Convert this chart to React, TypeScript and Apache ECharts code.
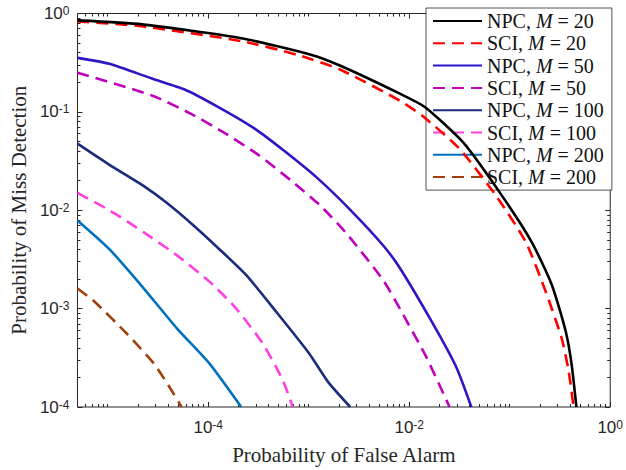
import React, { useEffect, useRef } from 'react';
import * as echarts from 'echarts';

// Data (x = P_FA, y = P_MD)
const npc20 = [
  [5e-6, 0.851], [2.19e-5, 0.776], [2.13e-4, 0.561], [1.07e-3, 0.379], [2.07e-3, 0.294],
  [8.07e-3, 0.153], [1.43e-2, 0.112], [3.46e-2, 0.0486], [8.39e-2, 0.014], [0.166, 0.00472],
  [0.262, 0.00175], [0.36, 5.92e-4], [0.412, 2.76e-4], [0.461, 1e-4],
];
const sci20 = [
  [5e-6, 0.832], [2.19e-5, 0.741], [2.13e-4, 0.524], [7.76e-4, 0.379], [2.07e-3, 0.268],
  [8.07e-3, 0.13], [1.36e-2, 0.0906], [3.16e-2, 0.0423], [7.33e-2, 0.014], [0.145, 0.00472],
  [0.228, 0.00149], [0.328, 5.04e-4], [0.385, 2.35e-4], [0.432, 1e-4],
];
const npc50 = [
  [5e-6, 0.354], [1.04e-5, 0.308], [2.75e-5, 0.218], [5.82e-5, 0.169], [1.26e-4, 0.112],
  [2.83e-4, 0.0687], [5.65e-4, 0.0404], [1.22e-3, 0.0212], [2.59e-3, 0.0101], [5.48e-3, 0.00441],
  [8.07e-3, 0.00259], [1.71e-2, 7.11e-4], [2.95e-2, 2.52e-4], [4.15e-2, 1e-4],
];
const sci50 = [
  [5e-6, 0.25], [2.75e-5, 0.147], [6.82e-5, 0.0949], [1.45e-4, 0.0612], [3.13e-4, 0.0368],
  [6.62e-4, 0.0202], [1.31e-3, 0.0111], [2.42e-3, 0.00568], [5.48e-3, 0.00196], [8.07e-3, 0.001],
  [1.49e-2, 3.17e-4], [2.52e-2, 1e-4],
];
const npc100 = [
  [5e-6, 0.0475], [1.06e-5, 0.0286], [2.29e-5, 0.0176], [3.86e-5, 0.0119], [7.14e-5, 0.007],
  [1.29e-4, 0.00402], [2.38e-4, 0.0022], [4.71e-4, 9.38e-4], [9.98e-4, 3.56e-4],
  [1.57e-3, 1.78e-4], [2.59e-3, 1e-4],
];
const sci100 = [
  [5e-6, 0.015], [1.06e-5, 0.00989], [2.29e-5, 0.00595], [4.85e-5, 0.0035], [1.03e-4, 0.00188],
  [1.9e-4, 0.001], [3.51e-4, 4.38e-4], [5.52e-4, 1.87e-4], [6.93e-4, 1e-4],
];
const npc200 = [
  [5e-6, 0.00785], [1.06e-5, 0.00393], [2.29e-5, 0.0016], [4.85e-5, 6.34e-4], [1.03e-4, 2.76e-4],
  [2.13e-4, 1e-4],
];
const sci200 = [
  [5e-6, 0.0016], [7.36e-6, 0.00118], [1.56e-5, 5.52e-4], [2.88e-5, 2.76e-4], [4.14e-5, 1.58e-4],
  [5.43e-5, 1e-4],
];

const seriesNames = [
  'NPC, M = 20', 'SCI, M = 20', 'NPC, M = 50', 'SCI, M = 50',
  'NPC, M = 100', 'SCI, M = 100', 'NPC, M = 200', 'SCI, M = 200',
];
const seriesData = [npc20, sci20, npc50, sci50, npc100, sci100, npc200, sci200];
const seriesColors = [
  '#000000', '#ff0000', '#2c16c6', '#bf00bf', '#1b2b7e', '#ff40e0', '#0072bd', '#a0400c',
];
const seriesDashed = [false, true, false, true, false, true, false, true];

// Axis ticks
const xMin = 5e-6;
const xMax = 1;
const yMin = 1e-4;
const yMax = 1;
const xLabelTicks = [1e-4, 1e-2, 1];
const xMinorTicks = [
  6e-6, 7e-6, 8e-6, 9e-6, 1e-5,
  2e-5, 3e-5, 4e-5, 5e-5, 6e-5, 7e-5, 8e-5, 9e-5,
  2e-4, 3e-4, 4e-4, 5e-4, 6e-4, 7e-4, 8e-4, 9e-4, 1e-3,
  2e-3, 3e-3, 4e-3, 5e-3, 6e-3, 7e-3, 8e-3, 9e-3,
  2e-2, 3e-2, 4e-2, 5e-2, 6e-2, 7e-2, 8e-2, 9e-2, 1e-1,
  2e-1, 3e-1, 4e-1, 5e-1, 6e-1, 7e-1, 8e-1, 9e-1,
];
const yLabelTicks = [1e-4, 1e-3, 1e-2, 1e-1, 1];
const yMinorTicks = [
  2e-4, 3e-4, 4e-4, 5e-4, 6e-4, 7e-4, 8e-4, 9e-4,
  2e-3, 3e-3, 4e-3, 5e-3, 6e-3, 7e-3, 8e-3, 9e-3,
  2e-2, 3e-2, 4e-2, 5e-2, 6e-2, 7e-2, 8e-2, 9e-2,
  2e-1, 3e-1, 4e-1, 5e-1, 6e-1, 7e-1, 8e-1, 9e-1,
];

const AX = '#262626';
const SERIF = 'Liberation Serif';
const SANS = 'Liberation Sans';

const powLabel = (v: number) => {
  const e = Math.round(Math.log10(v));
  return `{b|10}{s|${e}}`;
};
const powRich = {
  b: { fontFamily: SANS, fontSize: 17, color: AX, lineHeight: 17, verticalAlign: 'bottom', padding: [5, 0, 0, 0] },
  s: { fontFamily: SANS, fontSize: 12, color: AX, lineHeight: 12, verticalAlign: 'top' },
};

function makeAxis(kind: 'x' | 'y', position: string, ticks: number[], len: number, labels: boolean) {
  const isX = kind === 'x';
  return {
    type: 'log',
    logBase: 10,
    min: isX ? xMin : yMin,
    max: isX ? xMax : yMax,
    position,
    splitLine: { show: false },
    minorTick: { show: false },
    axisLine: { show: false },
    axisTick: {
      show: true,
      inside: true,
      length: len,
      customValues: ticks,
      lineStyle: { color: AX, width: 1 },
    },
    axisLabel: labels
      ? {
          show: true,
          customValues: ticks,
          formatter: powLabel,
          fontFamily: SANS,
          fontSize: 17,
          color: AX,
          rich: powRich,
          margin: isX ? 12 : 8,
          hideOverlap: false,
        }
      : { show: false },
  } as any;
}

export default function App() {
  const ref = useRef<HTMLDivElement>(null);
  useEffect(() => {
    document.body.style.margin = '0';
    if (!ref.current) return;
    const chart = echarts.init(ref.current, null, { renderer: 'svg' });
    const xAxes = [
      {
        ...makeAxis('x', 'bottom', xLabelTicks, 5, true),
        name: 'Probability of False Alarm',
        nameLocation: 'middle',
        nameGap: 37,
        nameTextStyle: { fontFamily: SERIF, fontSize: 21, color: AX },
      },
      makeAxis('x', 'top', xLabelTicks, 5, false),
      makeAxis('x', 'bottom', xMinorTicks, 3, false),
      makeAxis('x', 'top', xMinorTicks, 3, false),
    ];
    const yAxes = [
      {
        ...makeAxis('y', 'left', yLabelTicks, 5, true),
        name: 'Probability of Miss Detection',
        nameLocation: 'middle',
        nameGap: 47,
        nameTextStyle: { fontFamily: SERIF, fontSize: 21, color: AX },
      },
      makeAxis('y', 'right', yLabelTicks, 5, false),
      makeAxis('y', 'left', yMinorTicks, 3, false),
      makeAxis('y', 'right', yMinorTicks, 3, false),
    ];
    chart.setOption({
      animation: false,
      backgroundColor: '#ffffff',
      grid: {
        left: 75, right: 14, top: 8, bottom: 63,
        show: true, borderColor: AX, borderWidth: 1, backgroundColor: 'transparent',
      },
      xAxis: xAxes,
      yAxis: yAxes,
      legend: {
        data: seriesNames,
        orient: 'vertical',
        left: 426,
        top: 8,
        itemWidth: 49,
        itemHeight: 20,
        itemGap: 2.3,
        padding: [3, 8, 3, 6],
        backgroundColor: '#ffffff',
        borderColor: AX,
        borderWidth: 0.8,
        selectedMode: false,
        itemStyle: { opacity: 0, borderWidth: 0 },
        formatter: (name: string) => {
          const parts = name.split(', M = ');
          return `{a|${parts[0]}, }{i|M}{a| = ${parts[1]}}`;
        },
        textStyle: {
          fontFamily: SERIF,
          fontSize: 20,
          color: '#111',
          rich: {
            a: { fontFamily: SERIF, fontSize: 20, color: '#111', lineHeight: 20 },
            i: { fontFamily: SERIF, fontSize: 20, fontStyle: 'italic', color: '#111', lineHeight: 20 },
          },
        },
      },
      series: seriesNames.map((name, i) => ({
        name,
        type: 'line',
        xAxisIndex: 0,
        yAxisIndex: 0,
        data: seriesData[i],
        showSymbol: false,
        symbol: 'none',
        smooth: 0.2,
        clip: true,
        color: seriesColors[i],
        lineStyle: {
          color: seriesColors[i],
          width: 2.6,
          type: seriesDashed[i] ? [12, 7] : 'solid',
          cap: 'butt',
        },
        z: 10 - i,
      })),
    });
    return () => chart.dispose();
  }, []);
  return <div ref={ref} style={{ width: 626, height: 470 }} />;
}
